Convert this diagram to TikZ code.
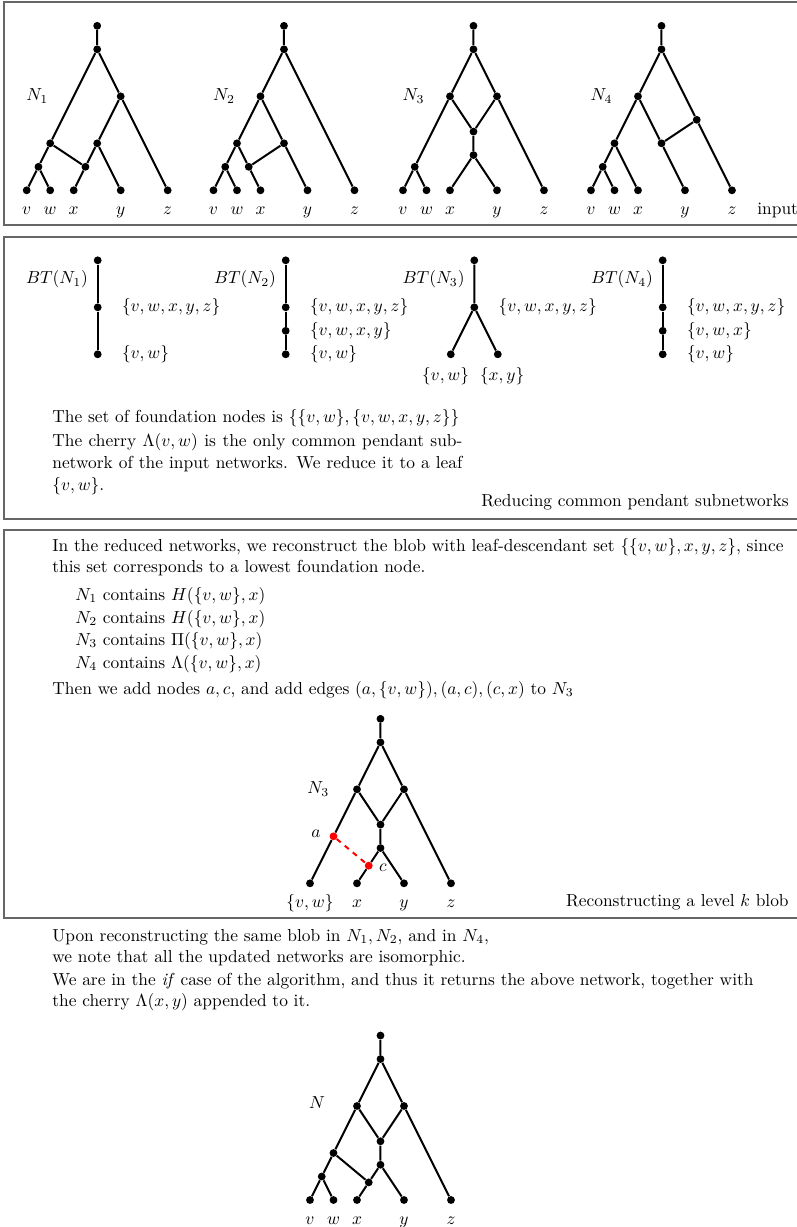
\documentclass[tikz,border=0pt]{standalone}
\usepackage{amsmath, amssymb}
\usepackage{tikz}
\usetikzlibrary{calc, positioning}

\tikzset{
  vtx/.style={circle, fill=black, inner sep=0pt, minimum size=4.5pt},
  rvtx/.style={circle, fill=red, inner sep=0pt, minimum size=4.5pt},
  edge/.style={line width=1.15pt},
  frame/.style={draw=black!60, line width=0.6pt},
  leaflab/.style={anchor=base, inner sep=0pt},
  txt/.style={anchor=base west, inner sep=0pt},
  rtxt/.style={anchor=base east, inner sep=0pt},
}

\begin{document}
\begin{tikzpicture}[x=0.575pt, y=-0.575pt]
  \useasboundingbox (0,0) rectangle (797,1227);

  % cornici
  \draw[frame] (4,2) rectangle (801,225);
  \draw[frame] (4,237) rectangle (801,519);
  \draw[frame] (4,530) rectangle (801,918);

  % rete N1
  \begin{scope}[shift={(26.7,190.3)}, x=13.51pt, y=13.51pt]
    \foreach \c/\l in {0/v,1/w,2/x,4/y,6/z}{
      \node[vtx] (n1\l) at (\c,0) {};
      \node[leaflab] at (\c,-1.05) {$\l$};
    }
    \node[vtx] (n1p) at (0.5,1) {};
    \node[vtx] (n1r) at (2.5,1) {};
    \node[vtx] (n1l) at (1,2) {};
    \node[vtx] (n1m) at (3,2) {};
    \node[vtx] (n1d) at (4,4) {};
    \node[vtx] (n1s) at (3,6) {};
    \node[vtx] (n1t) at (3,7) {};
    \node at (0.45,4) {$N_1$};
    \draw[edge] (n1t)--(n1s) (n1s)--(n1l) (n1s)--(n1d) (n1d)--(n1m) (n1d)--(n1z)
      (n1l)--(n1p) (n1l)--(n1r) (n1m)--(n1r) (n1m)--(n1y)
      (n1p)--(n1v) (n1p)--(n1w) (n1r)--(n1x);
  \end{scope}

  % rete N2
  \begin{scope}[shift={(213.5,190.3)}, x=13.51pt, y=13.51pt]
    \foreach \c/\l in {0/v,1/w,2/x,4/y,6/z}{
      \node[vtx] (n2\l) at (\c,0) {};
      \node[leaflab] at (\c,-1.05) {$\l$};
    }
    \node[vtx] (n2p) at (0.5,1) {};
    \node[vtx] (n2r) at (1.5,1) {};
    \node[vtx] (n2l) at (1,2) {};
    \node[vtx] (n2m) at (3,2) {};
    \node[vtx] (n2d) at (2,4) {};
    \node[vtx] (n2s) at (3,6) {};
    \node[vtx] (n2t) at (3,7) {};
    \node at (0.45,4) {$N_2$};
    \draw[edge] (n2t)--(n2s) (n2s)--(n2d) (n2s)--(n2z) (n2d)--(n2l) (n2d)--(n2m)
      (n2l)--(n2p) (n2l)--(n2r) (n2m)--(n2r) (n2m)--(n2y)
      (n2p)--(n2v) (n2p)--(n2w) (n2r)--(n2x);
  \end{scope}

  % rete N3
  \begin{scope}[shift={(403,190.3)}, x=13.51pt, y=13.51pt]
    \foreach \c/\l in {0/v,1/w,2/x,4/y,6/z}{
      \node[vtx] (n3\l) at (\c,0) {};
      \node[leaflab] at (\c,-1.05) {$\l$};
    }
    \node[vtx] (n3p) at (0.5,1) {};
    \node[vtx] (n3b) at (3,1.5) {};
    \node[vtx] (n3r) at (3,2.5) {};
    \node[vtx] (n3l) at (2,4) {};
    \node[vtx] (n3d) at (4,4) {};
    \node[vtx] (n3s) at (3,6) {};
    \node[vtx] (n3t) at (3,7) {};
    \node at (0.45,4) {$N_3$};
    \draw[edge] (n3t)--(n3s) (n3s)--(n3l) (n3s)--(n3d) (n3l)--(n3p) (n3l)--(n3r)
      (n3d)--(n3r) (n3d)--(n3z) (n3r)--(n3b) (n3b)--(n3x) (n3b)--(n3y)
      (n3p)--(n3v) (n3p)--(n3w);
  \end{scope}

  % rete N4
  \begin{scope}[shift={(591,190.3)}, x=13.51pt, y=13.51pt]
    \foreach \c/\l in {0/v,1/w,2/x,4/y,6/z}{
      \node[vtx] (n4\l) at (\c,0) {};
      \node[leaflab] at (\c,-1.05) {$\l$};
    }
    \node[vtx] (n4p) at (0.5,1) {};
    \node[vtx] (n4l) at (1,2) {};
    \node[vtx] (n4m) at (3,2) {};
    \node[vtx] (n4r) at (4.5,3) {};
    \node[vtx] (n4d) at (2,4) {};
    \node[vtx] (n4s) at (3,6) {};
    \node[vtx] (n4t) at (3,7) {};
    \node at (0.45,4) {$N_4$};
    \draw[edge] (n4t)--(n4s) (n4s)--(n4d) (n4s)--(n4r) (n4r)--(n4z) (n4r)--(n4m)
      (n4d)--(n4l) (n4d)--(n4m) (n4m)--(n4y) (n4l)--(n4p) (n4l)--(n4x)
      (n4p)--(n4v) (n4p)--(n4w);
  \end{scope}
  \node[txt] at (757,214.5) {input};

  % alberi dei blob BT(N_i)
  \begin{scope}[shift={(97.7,354.3)}, x=13.51pt, y=13.51pt]
    \node[vtx] (b1t) at (0,4) {};
    \node[vtx] (b1m) at (0,2) {};
    \node[vtx] (b1b) at (0,0) {};
    \draw[edge] (b1t)--(b1m)--(b1b);
    \node[anchor=east, inner sep=0pt] at (-0.4,3.2) {$BT(N_1)$};
    \node[right=8pt of b1m] {$\{v,w,x,y,z\}$};
    \node[right=8pt of b1b] {$\{v,w\}$};
  \end{scope}
  \begin{scope}[shift={(285.7,354.3)}, x=13.51pt, y=13.51pt]
    \node[vtx] (b2t) at (0,4) {};
    \node[vtx] (b2m) at (0,2) {};
    \node[vtx] (b2n) at (0,1) {};
    \node[vtx] (b2b) at (0,0) {};
    \draw[edge] (b2t)--(b2m)--(b2n)--(b2b);
    \node[anchor=east, inner sep=0pt] at (-0.4,3.2) {$BT(N_2)$};
    \node[right=8pt of b2m] {$\{v,w,x,y,z\}$};
    \node[right=8pt of b2n] {$\{v,w,x,y\}$};
    \node[right=8pt of b2b] {$\{v,w\}$};
  \end{scope}
  \begin{scope}[shift={(474.3,354.3)}, x=13.51pt, y=13.51pt]
    \node[vtx] (b3t) at (0,4) {};
    \node[vtx] (b3m) at (0,2) {};
    \node[vtx] (b3l) at (-1,0) {};
    \node[vtx] (b3r) at (1,0) {};
    \draw[edge] (b3t)--(b3m) (b3m)--(b3l) (b3m)--(b3r);
    \node[anchor=east, inner sep=0pt] at (-0.4,3.2) {$BT(N_3)$};
    \node[right=8pt of b3m] {$\{v,w,x,y,z\}$};
    \node[below=1.7pt of b3l, xshift=-3pt] {$\{v,w\}$};
    \node[below=1.7pt of b3r, xshift=2.5pt] {$\{x,y\}$};
  \end{scope}
  \begin{scope}[shift={(662.7,354.3)}, x=13.51pt, y=13.51pt]
    \node[vtx] (b4t) at (0,4) {};
    \node[vtx] (b4m) at (0,2) {};
    \node[vtx] (b4n) at (0,1) {};
    \node[vtx] (b4b) at (0,0) {};
    \draw[edge] (b4t)--(b4m)--(b4n)--(b4b);
    \node[anchor=east, inner sep=0pt] at (-0.4,3.2) {$BT(N_4)$};
    \node[right=8pt of b4m] {$\{v,w,x,y,z\}$};
    \node[right=8pt of b4n] {$\{v,w,x\}$};
    \node[right=8pt of b4b] {$\{v,w\}$};
  \end{scope}

  % testo del secondo riquadro
  \node[txt] at (52,422) {The set of foundation nodes is $\{\{v,w\},\{v,w,x,y,z\}\}$};
  \node[txt] at (52,446) {\makebox[235.8pt][s]{The cherry $\Lambda(v,w)$ is the only common pendant sub-}};
  \node[txt] at (52,468) {\makebox[235.8pt][s]{network of the input networks. We reduce it to a leaf}};
  \node[txt] at (52,490) {$\{v,w\}$.};
  \node[rtxt] at (789,506) {Reducing common pendant subnetworks};

  % testo del terzo riquadro
  \node[txt] at (52,551) {In the reduced networks, we reconstruct the blob with leaf-descendant set $\{\{v,w\},x,y,z\}$, since};
  \node[txt] at (52,572) {this set corresponds to a lowest foundation node.};
  \node[txt] at (75,600) {$N_1$ contains $H(\{v,w\},x)$};
  \node[txt] at (75,623) {$N_2$ contains $H(\{v,w\},x)$};
  \node[txt] at (75,645) {$N_3$ contains $\Pi(\{v,w\},x)$};
  \node[txt] at (75,668) {$N_4$ contains $\Lambda(\{v,w\},x)$};
  \node[txt] at (52,694) {Then we add nodes $a,c$, and add edges $(a,\{v,w\}),(a,c),(c,x)$ to $N_3$};

  % N3 con i nodi a, c aggiunti
  \begin{scope}[shift={(310,883.3)}, x=13.51pt, y=13.51pt]
    \foreach \c/\l/\t in {0/q/{\{v,w\}},2/x/x,4/y/y,6/z/z}{
      \node[vtx] (m\l) at (\c,0) {};
      \node[leaflab] at (\c,-1.05) {$\t$};
    }
    \node[vtx] (mb) at (3,1.5) {};
    \node[vtx] (mr) at (3,2.5) {};
    \node[vtx] (ml) at (2,4) {};
    \node[vtx] (md) at (4,4) {};
    \node[vtx] (ms) at (3,6) {};
    \node[vtx] (mt) at (3,7) {};
    \node[rvtx] (ma) at (1,2) {};
    \node[rvtx] (mc) at (2.5,0.75) {};
    \node at (0.35,4) {$N_3$};
    \node[left=1.5pt of ma, yshift=1.5pt] {$a$};
    \node[right=0pt of mc, yshift=-1pt] {$c$};
    \draw[edge] (mt)--(ms) (ms)--(ml) (ms)--(md) (ml)--(ma) (ma)--(mq) (ml)--(mr)
      (md)--(mr) (md)--(mz) (mr)--(mb) (mb)--(mc) (mc)--(mx) (mb)--(my);
    \draw[edge, red, dashed] (ma)--(mc);
  \end{scope}
  \node[rtxt] at (789,906) {Reconstructing a level $k$ blob};

  % testo finale
  \node[txt] at (52,941) {Upon reconstructing the same blob in $N_1,N_2$, and in $N_4$,};
  \node[txt] at (52,962) {we note that all the updated networks are isomorphic.};
  \node[txt] at (52,985) {We are in the \textit{if} case of the algorithm, and thus it returns the above network, together with};
  \node[txt] at (52,1006) {the cherry $\Lambda(x,y)$ appended to it.};

  % rete risultante N
  \begin{scope}[shift={(310,1200)}, x=13.51pt, y=13.51pt]
    \foreach \c/\l in {0/v,1/w,2/x,4/y,6/z}{
      \node[vtx] (f\l) at (\c,0) {};
      \node[leaflab] at (\c,-1.05) {$\l$};
    }
    \node[vtx] (fp) at (0.5,1) {};
    \node[vtx] (fc) at (2.5,0.75) {};
    \node[vtx] (fa) at (1,2) {};
    \node[vtx] (fb) at (3,1.5) {};
    \node[vtx] (fr) at (3,2.5) {};
    \node[vtx] (fl) at (2,4) {};
    \node[vtx] (fd) at (4,4) {};
    \node[vtx] (fs) at (3,6) {};
    \node[vtx] (ft) at (3,7) {};
    \node at (0.3,4.15) {$N$};
    \draw[edge] (ft)--(fs) (fs)--(fl) (fs)--(fd) (fl)--(fa) (fl)--(fr) (fd)--(fr)
      (fd)--(fz) (fr)--(fb) (fb)--(fc) (fb)--(fy) (fc)--(fx) (fa)--(fc)
      (fa)--(fp) (fp)--(fv) (fp)--(fw);
  \end{scope}
\end{tikzpicture}
\end{document}
